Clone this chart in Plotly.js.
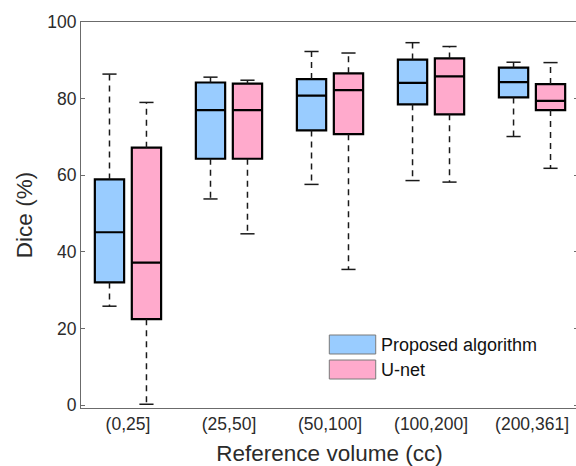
<!DOCTYPE html>
<html>
<head>
<meta charset="utf-8">
<script src="https://cdn.plot.ly/plotly-3.0.1.min.js"></script>
<style>
  html, body { margin: 0; padding: 0; background: #fff; overflow: hidden; }
  #chart { width: 580px; height: 466px; }
</style>
</head>
<body>
<div id="chart"></div>
<script>
// Volume bins and series
const categories = ['(0,25]', '(25,50]', '(50,100]', '(100,200]', '(200,361]'];
const seriesNames = ['Proposed algorithm', 'U-net'];

// Proposed algorithm: Dice (%) box statistics per volume bin
const proposedLower  = [25.8, 53.8, 57.6, 58.6, 70.1];
const proposedQ1     = [32.0, 64.3, 71.7, 78.5, 80.3];
const proposedMedian = [45.1, 77.0, 80.8, 84.1, 84.3];
const proposedQ3     = [58.9, 84.2, 85.1, 90.2, 88.1];
const proposedUpper  = [86.4, 85.6, 92.3, 94.6, 89.5];

// U-net: Dice (%) box statistics per volume bin
const unetLower  = [0.2, 44.7, 35.4, 58.2, 61.8];
const unetQ1     = [22.4, 64.3, 70.7, 75.9, 77.0];
const unetMedian = [37.2, 77.0, 82.2, 85.8, 79.4];
const unetQ3     = [67.2, 83.9, 86.6, 90.5, 83.8];
const unetUpper  = [79.0, 84.8, 91.9, 93.6, 89.4];

const yTickVals = [0, 20, 40, 60, 80, 100];

const fontFamily = '"Liberation Sans", Arial, Helvetica, sans-serif';
const textColor = '#2b2b2b';
const axisColor = '#6b6b6b';

const basePos = categories.map((c, i) => i + 1);
const groupOffset = 0.183;
const boxWidth = 0.29;
const capHalf = 0.07;

const series = [
  { name: seriesNames[0], color: '#99CCFF', shift: -groupOffset,
    lo: proposedLower, q1: proposedQ1, med: proposedMedian, q3: proposedQ3, hi: proposedUpper },
  { name: seriesNames[1], color: '#FFAACC', shift: groupOffset,
    lo: unetLower, q1: unetQ1, med: unetMedian, q3: unetQ3, hi: unetUpper }
];

const traces = [];
series.forEach(s => {
  const pos = basePos.map(p => p + s.shift);

  // dashed whiskers from box edges out to the extremes
  const wx = [], wy = [];
  pos.forEach((p, i) => {
    wx.push(p, p, null, p, p, null);
    wy.push(s.q3[i], s.hi[i], null, s.q1[i], s.lo[i], null);
  });
  traces.push({
    type: 'scatter', mode: 'lines', x: wx, y: wy,
    line: { color: '#1a1a1a', width: 1.5, dash: '6px,5px' },
    hoverinfo: 'skip', showlegend: false
  });

  // whisker end caps
  const cx = [], cy = [];
  pos.forEach((p, i) => {
    cx.push(p - capHalf, p + capHalf, null, p - capHalf, p + capHalf, null);
    cy.push(s.hi[i], s.hi[i], null, s.lo[i], s.lo[i], null);
  });
  traces.push({
    type: 'scatter', mode: 'lines', x: cx, y: cy,
    line: { color: '#1a1a1a', width: 1.5 },
    hoverinfo: 'skip', showlegend: false
  });

  // boxes (interquartile range and median)
  traces.push({
    type: 'box', name: s.name, x: pos,
    q1: s.q1, median: s.med, q3: s.q3,
    lowerfence: s.q1, upperfence: s.q3,
    width: boxWidth, whiskerwidth: 0,
    fillcolor: s.color,
    line: { color: '#000000', width: 2.2 },
    boxpoints: false, hoverinfo: 'skip', showlegend: false
  });
});

// legend drawn as swatches + labels inside the axes
const shapes = [];
const annotations = [];
const legendRows = [0.1645, 0.0997];
series.forEach((s, i) => {
  const yc = legendRows[i];
  shapes.push({
    type: 'rect', xref: 'paper', yref: 'paper',
    x0: 0.4996, x1: 0.593, y0: yc - 0.0246, y1: yc + 0.0246,
    fillcolor: s.color, line: { color: '#7a7a7a', width: 1 }
  });
  annotations.push({
    xref: 'paper', yref: 'paper', x: 0.6006, y: yc,
    xanchor: 'left', yanchor: 'middle', showarrow: false,
    text: s.name, font: { family: fontFamily, size: 18, color: '#111111' }
  });
});

const layout = {
  width: 580, height: 466,
  margin: { l: 81, r: 2, t: 22, b: 58, pad: 0 },
  paper_bgcolor: '#ffffff', plot_bgcolor: '#ffffff',
  font: { family: fontFamily, color: textColor },
  showlegend: false,
  xaxis: {
    range: [0.535, 5.455],
    tickmode: 'array', tickvals: basePos, ticktext: categories,
    ticks: '', showgrid: false, zeroline: false,
    showline: true, linecolor: axisColor, linewidth: 1, mirror: true,
    tickfont: { family: fontFamily, size: 17.5, color: textColor },
    title: { text: 'Reference volume (cc)', font: { family: fontFamily, size: 22.5, color: textColor }, standoff: 14 },
    automargin: false
  },
  yaxis: {
    range: [-0.78, 100],
    tickmode: 'array', tickvals: yTickVals, ticktext: yTickVals.map(String),
    ticks: 'inside', ticklen: 4, tickwidth: 1, tickcolor: axisColor,
    showgrid: false, zeroline: false,
    showline: true, linecolor: axisColor, linewidth: 1, mirror: 'ticks',
    tickfont: { family: fontFamily, size: 17.5, color: textColor },
    title: { text: 'Dice (%)', font: { family: fontFamily, size: 22.5, color: textColor }, standoff: 8 },
    automargin: false
  },
  shapes: shapes,
  annotations: annotations
};

Plotly.newPlot('chart', traces, layout, { staticPlot: true, displayModeBar: false });
</script>
</body>
</html>
